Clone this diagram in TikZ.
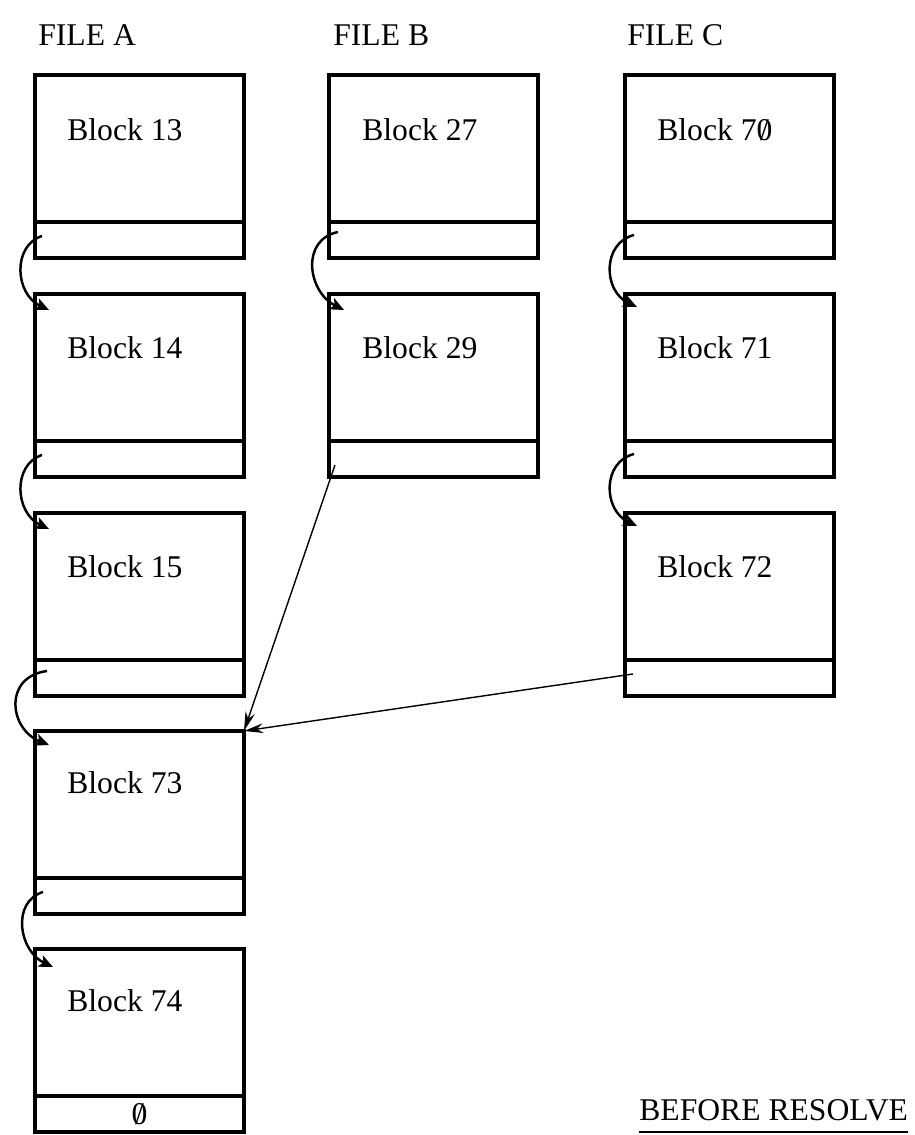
\documentclass[tikz,border=0pt]{standalone}
\usepackage{fontspec}
\setmainfont{Liberation Serif}
\usetikzlibrary{arrows.meta,calc}
\newcommand{\slz}{\ooalign{0\cr\hidewidth/\hidewidth\cr}}
\begin{document}
\begin{tikzpicture}[x=0.02cm,y=-0.02cm,
  datab/.style={draw, line width=1.9pt, minimum width=4.18cm, minimum height=2.94cm, inner sep=0pt, outer sep=0pt, anchor=north west},
  ptrb/.style={draw, line width=1.9pt, minimum width=4.18cm, minimum height=0.72cm, inner sep=0pt, outer sep=0pt, anchor=north, font=\fontsize{18}{21}\selectfont},
  lbl/.style={anchor=base west, inner sep=0pt, font=\fontsize{18}{21}\selectfont},
  link/.style={line width=1.4pt, -{Stealth[length=8pt,width=7pt,inset=2pt]}},
  longlink/.style={line width=0.8pt, -{Stealth[length=11pt,width=5.5pt]}}]
\useasboundingbox (0,0) rectangle (914,1135);

% headings
\node[lbl] (fa) at (38,46) {FILE A};
\node[lbl] (fb) at (333,46) {FILE B};
\node[lbl] (fc) at (627,46) {FILE C};

% File A
\node[datab] (b13) at (35,75) {};
\node[ptrb] (p13) at (b13.south) {};
\node[datab] (b14) at (35,294) {};
\node[ptrb] (p14) at (b14.south) {};
\node[datab] (b15) at (35,513) {};
\node[ptrb] (p15) at (b15.south) {};
\node[datab] (b73) at (35,731) {};
\node[ptrb] (p73) at (b73.south) {};
\node[datab] (b74) at (35,949) {};
\node[ptrb] (p74) at (b74.south) {\slz};

% File B
\node[datab] (b27) at (329,75) {};
\node[ptrb] (p27) at (b27.south) {};
\node[datab] (b29) at (329,294) {};
\node[ptrb] (p29) at (b29.south) {};

% File C
\node[datab] (b70) at (625,75) {};
\node[ptrb] (p70) at (b70.south) {};
\node[datab] (b71) at (625,294) {};
\node[ptrb] (p71) at (b71.south) {};
\node[datab] (b72) at (625,513) {};
\node[ptrb] (p72) at (b72.south) {};

% block labels
\node[lbl] (t13) at ($(b13.north west)+(32,66)$) {Block 13};
\node[lbl] (t14) at ($(b14.north west)+(32,64)$) {Block 14};
\node[lbl] (t15) at ($(b15.north west)+(32,64)$) {Block 15};
\node[lbl] (t73) at ($(b73.north west)+(32,62)$) {Block 73};
\node[lbl] (t74) at ($(b74.north west)+(32,62)$) {Block 74};
\node[lbl] (t27) at ($(b27.north west)+(33,66)$) {Block 27};
\node[lbl] (t29) at ($(b29.north west)+(33,64)$) {Block 29};
\node[lbl] (t70) at ($(b70.north west)+(32,66)$) {Block 7\slz};
\node[lbl] (t71) at ($(b71.north west)+(32,64)$) {Block 71};
\node[lbl] (t72) at ($(b72.north west)+(32,64)$) {Block 72};

% curved chain links
\draw[link] ($(p13.north west)+(7,14)$) .. controls +(-30,10) and +(-34,-16) .. ($(b14.north west)+(14,16)$);
\draw[link] ($(p14.north west)+(7,14)$) .. controls +(-30,10) and +(-34,-16) .. ($(b15.north west)+(14,16)$);
\draw[link] ($(p15.north west)+(12,11)$) .. controls +(-44,6) and +(-40,-16) .. ($(b73.north west)+(14,14)$);
\draw[link] ($(p73.north west)+(8,14)$) .. controls +(-32,10) and +(-34,-16) .. ($(b74.north west)+(18,18)$);
\draw[link] ($(p27.north west)+(9,10)$) .. controls +(-38,8) and +(-36,-18) .. ($(b29.north west)+(15,16)$);
\draw[link] ($(p70.north west)+(9,13)$) .. controls +(-32,8) and +(-34,-16) .. ($(b71.north west)+(12,13)$);
\draw[link] ($(p71.north west)+(9,13)$) .. controls +(-32,8) and +(-34,-16) .. ($(b72.north west)+(12,13)$);

% long links into Block 73
\draw[longlink] ($(p29.south west)+(6,-12)$) -- (b73.north east);
\draw[longlink] ($(p72.north west)+(8,14)$) -- (b73.north east);

% caption
\node[lbl] (br) at (639,1120) {BEFORE RESOLVE};
\draw[line width=1.3pt] ($(br.base west)+(0,12)$) -- ($(br.base east)+(0,12)$);
\end{tikzpicture}
\end{document}
